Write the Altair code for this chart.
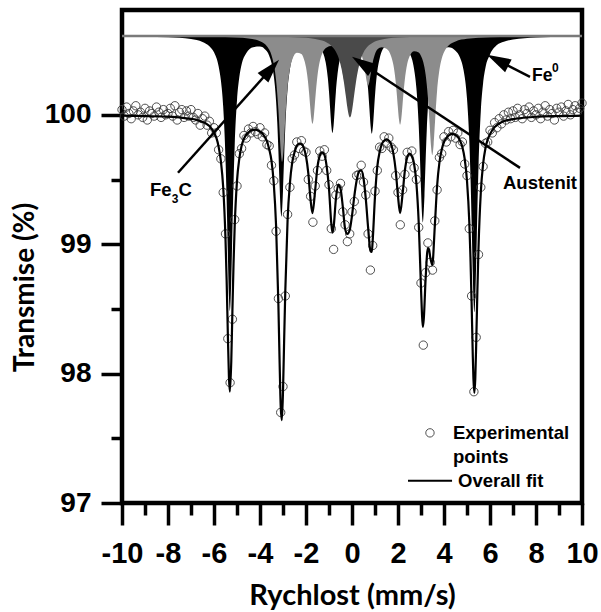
import altair as alt
import pandas as pd

BASELINE = 100.61

# ---------------- experimental points (velocity grid step 0.1 mm/s) ----------------
exp_x = [round(-10 + 0.1 * i, 1) for i in range(201)]
exp_y = [
    100.04, 99.99, 100.06, 100.01, 99.97, 100.03, 100.07, 100.00, 100.02, 99.98,
    100.05, 99.96, 100.03, 100.01, 99.99, 100.06, 100.02, 99.98, 100.04, 100.00,
    100.01, 100.05, 99.99, 100.07, 99.96, 100.02, 100.04, 99.98, 100.03, 99.99,
    100.04, 99.98, 99.96, 100.01, 99.92, 99.97, 99.99, 99.92, 99.95, 99.86,
    99.90, 99.86, 99.73, 99.66, 99.40, 99.08, 98.27, 97.93, 98.42, 99.19,
    99.45, 99.70, 99.74, 99.84, 99.82, 99.89, 99.86, 99.91, 99.87, 99.85,
    99.90, 99.83, 99.86, 99.77, 99.76, 99.61, 99.49, 99.10, 98.58, 97.70,
    97.90, 98.60, 99.23, 99.44, 99.66, 99.69, 99.79, 99.74, 99.80, 99.72,
    99.71, 99.50, 99.37, 99.17, 99.45, 99.57, 99.72, 99.68, 99.73, 99.57,
    99.46, 99.12, 98.96, 99.38, 99.43, 99.47, 99.25, 99.15, 99.02, 99.08,
    99.25, 99.33, 99.53, 99.54, 99.61, 99.48, 99.38, 99.08, 98.80, 98.99,
    99.41, 99.57, 99.75, 99.74, 99.83, 99.78, 99.82, 99.75, 99.73, 99.53,
    99.40, 99.15, 99.42, 99.54, 99.71, 99.66, 99.72, 99.59, 99.50, 99.13,
    98.70, 98.22, 98.78, 99.01, 98.86, 98.80, 99.18, 99.42, 99.67, 99.70,
    99.83, 99.79, 99.87, 99.83, 99.88, 99.82, 99.86, 99.77, 99.79, 99.62,
    99.53, 99.12, 98.60, 97.86, 98.28, 98.92, 99.44, 99.60, 99.78, 99.79,
    99.88, 99.86, 99.94, 99.90, 99.97, 99.93, 100.00, 99.96, 100.02, 99.97,
    100.03, 99.98, 100.05, 100.00, 99.97, 100.04, 100.01, 100.06, 99.98, 100.03,
    100.00, 100.05, 99.97, 100.02, 100.07, 99.99, 100.04, 100.01, 99.96, 100.05,
    100.02, 100.06, 99.99, 100.03, 100.08, 100.00, 100.04, 100.07, 100.02, 100.05,
    100.09,
]

# ---------------- overall fit ----------------
fit_x = [-10, -9, -8, -7.5, -7, -6.8, -6.6, -6.4, -6.2, -6.0, -5.9, -5.8, -5.7, -5.6,
         -5.5, -5.45, -5.4, -5.35, -5.31, -5.25, -5.2, -5.15, -5.1, -5.0, -4.9, -4.8,
         -4.7, -4.6, -4.5, -4.4, -4.3, -4.2, -4.1, -4.0, -3.9, -3.8, -3.7, -3.6, -3.5,
         -3.4, -3.3, -3.2, -3.15, -3.1, -3.05, -3.0, -2.95, -2.9, -2.8, -2.7, -2.6,
         -2.5, -2.4, -2.3, -2.2, -2.1, -2.0, -1.9, -1.8, -1.72, -1.6, -1.5, -1.4, -1.3,
         -1.2, -1.1, -1.0, -0.9, -0.85, -0.8, -0.7, -0.6, -0.5, -0.4, -0.3, -0.2, -0.1,
         0.0, 0.1, 0.2, 0.3, 0.4, 0.5, 0.6, 0.7, 0.8, 0.86, 0.9, 1.0, 1.1, 1.2, 1.3,
         1.4, 1.5, 1.6, 1.7, 1.8, 1.9, 2.0, 2.09, 2.2, 2.3, 2.4, 2.5, 2.6, 2.7, 2.8,
         2.9, 3.0, 3.04, 3.08, 3.12, 3.2, 3.3, 3.35, 3.4, 3.49, 3.6, 3.7, 3.8, 3.9,
         4.0, 4.1, 4.2, 4.3, 4.4, 4.5, 4.6, 4.7, 4.8, 4.9, 5.0, 5.1, 5.15, 5.2, 5.25,
         5.28, 5.32, 5.36, 5.4, 5.45, 5.5, 5.6, 5.7, 5.8, 5.9, 6.0, 6.2, 6.4, 6.6, 6.8,
         7.0, 7.5, 8.0, 9.0, 10.0]
fit_y = [99.994, 99.990, 99.986, 99.979, 99.969, 99.963, 99.951, 99.938, 99.913, 99.862,
         99.823, 99.754, 99.64, 99.44, 99.04, 98.72, 98.32, 97.97, 97.86, 98.09, 98.48,
         98.854, 99.14, 99.49, 99.66, 99.76, 99.814, 99.846, 99.864, 99.878, 99.882,
         99.885, 99.881, 99.87, 99.857, 99.83, 99.797, 99.734, 99.644, 99.465, 99.14,
         98.53, 98.11, 97.75, 97.64, 97.86, 98.26, 98.64, 99.19, 99.47, 99.63, 99.71,
         99.76, 99.777, 99.776, 99.747, 99.68, 99.55, 99.34, 99.24, 99.42, 99.60, 99.685,
         99.71, 99.69, 99.60, 99.43, 99.16, 99.09, 99.13, 99.35, 99.46, 99.43, 99.29,
         99.12, 99.08, 99.11, 99.22, 99.37, 99.49, 99.56, 99.57, 99.51, 99.35, 99.13,
         98.95, 98.94, 99.03, 99.37, 99.60, 99.71, 99.775, 99.80, 99.81, 99.80, 99.774,
         99.70, 99.57, 99.37, 99.24, 99.39, 99.57, 99.67, 99.70, 99.68, 99.62, 99.47,
         99.17, 98.66, 98.47, 98.36, 98.42, 98.73, 98.97, 98.96, 98.90, 98.84, 99.14,
         99.45, 99.63, 99.73, 99.79, 99.82, 99.84, 99.85, 99.85, 99.845, 99.83, 99.80,
         99.75, 99.66, 99.49, 99.17, 98.90, 98.55, 98.15, 97.96, 97.85, 97.96, 98.23,
         98.63, 98.97, 99.40, 99.62, 99.74, 99.81, 99.85, 99.905, 99.932, 99.95, 99.96,
         99.967, 99.978, 99.985, 99.99, 99.993]

# ---------------- Fe0 subspectrum (black) ----------------
fe_x = [-10, -8, -7, -6.5, -6.2, -6.0, -5.8, -5.7, -5.6, -5.5, -5.45, -5.4, -5.35, -5.31,
        -5.25, -5.2, -5.15, -5.1, -5.0, -4.9, -4.8, -4.6, -4.3, -4.0, -3.8, -3.6, -3.45,
        -3.35, -3.25, -3.2, -3.15, -3.1, -3.07, -3.0, -2.95, -2.9, -2.8, -2.7, -2.5, -2.2,
        -1.8, -1.5, -1.3, -1.15, -1.05, -1.0, -0.95, -0.9, -0.85, -0.8, -0.75, -0.7, -0.6,
        -0.5, -0.3, 0.0, 0.3, 0.5, 0.6, 0.7, 0.76, 0.81, 0.86, 0.91, 0.96, 1.01, 1.1, 1.2,
        1.4, 1.8, 2.2, 2.5, 2.7, 2.8, 2.9, 2.95, 3.0, 3.05, 3.08, 3.15, 3.2, 3.25, 3.35,
        3.45, 3.6, 3.8, 4.2, 4.5, 4.7, 4.85, 5.0, 5.1, 5.15, 5.2, 5.25, 5.28, 5.32, 5.36,
        5.4, 5.45, 5.5, 5.6, 5.7, 5.8, 6.0, 6.3, 6.6, 7.0, 8.0, 10]
fe_y = [100.606, 100.599, 100.585, 100.563, 100.53, 100.483, 100.376, 100.265, 100.062,
        99.66, 99.34, 98.947, 98.594, 98.483, 98.718, 99.109, 99.479, 99.763, 100.112,
        100.29, 100.388, 100.476, 100.523, 100.527, 100.509, 100.457, 100.358, 100.218,
        99.941, 99.721, 99.462, 99.254, 99.213, 99.413, 99.673, 99.903, 100.201, 100.353,
        100.48, 100.538, 100.553, 100.537, 100.496, 100.41, 100.283, 100.179, 100.047,
        99.917, 99.859, 99.917, 100.046, 100.178, 100.356, 100.447, 100.516, 100.542,
        100.52, 100.453, 100.364, 100.196, 100.041, 99.911, 99.853, 99.911, 100.04,
        100.172, 100.336, 100.433, 100.52, 100.549, 100.535, 100.477, 100.353, 100.206,
        99.919, 99.693, 99.426, 99.211, 99.168, 99.373, 99.639, 99.877, 100.182, 100.335,
        100.442, 100.5, 100.522, 100.496, 100.441, 100.346, 100.125, 99.801, 99.533,
        99.179, 98.782, 98.585, 98.474, 98.586, 98.859, 99.257, 99.596, 100.025, 100.244,
        100.362, 100.466, 100.539, 100.565, 100.582, 100.598, 100.606]

# ---------------- Fe3C subspectrum (grey) ----------------
c_x = [-10, -8, -6, -5, -4.5, -4.0, -3.7, -3.5, -3.4, -3.3, -3.2, -3.15, -3.1, -3.04,
       -2.98, -2.93, -2.88, -2.8, -2.7, -2.6, -2.4, -2.2, -2.1, -2.0, -1.92, -1.87,
       -1.82, -1.77, -1.72, -1.67, -1.62, -1.57, -1.5, -1.4, -1.3, -1.1, -0.9, -0.7,
       -0.6, -0.5, -0.42, -0.36, -0.3, -0.24, -0.18, -0.1, 0.0, 0.1, 0.2, 0.3, 0.4, 0.5,
       0.58, 0.64, 0.7, 0.76, 0.82, 0.9, 1.0, 1.1, 1.3, 1.5, 1.7, 1.8, 1.89, 1.94, 1.99,
       2.04, 2.09, 2.14, 2.19, 2.24, 2.29, 2.4, 2.5, 2.7, 2.9, 3.0, 3.1, 3.2, 3.3, 3.37,
       3.43, 3.49, 3.55, 3.61, 3.7, 3.8, 3.9, 4.0, 4.2, 4.5, 5.0, 6.0, 8.0, 10]
c_y = [100.609, 100.607, 100.604, 100.598, 100.59, 100.568, 100.529, 100.461, 100.391,
       100.266, 100.037, 99.879, 99.725, 99.637, 99.723, 99.876, 100.033, 100.218,
       100.355, 100.426, 100.48, 100.469, 100.435, 100.367, 100.267, 100.177, 100.069,
       99.971, 99.93, 99.972, 100.071, 100.18, 100.304, 100.413, 100.472, 100.52,
       100.531, 100.511, 100.481, 100.421, 100.342, 100.278, 100.247, 100.276, 100.339,
       100.416, 100.473, 100.499, 100.506, 100.498, 100.469, 100.407, 100.325, 100.257,
       100.225, 100.257, 100.324, 100.405, 100.47, 100.504, 100.522, 100.51, 100.452,
       100.384, 100.27, 100.177, 100.067, 99.967, 99.924, 99.965, 100.063, 100.17,
       100.261, 100.393, 100.451, 100.492, 100.481, 100.455, 100.406, 100.312, 100.135,
       99.942, 99.769, 99.688, 99.771, 99.946, 100.186, 100.346, 100.434, 100.484,
       100.536, 100.567, 100.587, 100.6, 100.606, 100.608]

# ---------------- Austenite singlet (dark grey) ----------------
a_x = [-10, -7, -5, -4, -3, -2.5, -2, -1.6, -1.3, -1.1, -0.9, -0.7, -0.55, -0.45, -0.35,
       -0.27, -0.2, -0.14, -0.09, -0.04, 0.02, 0.09, 0.17, 0.27, 0.37, 0.5, 0.7, 0.9, 1.2,
       1.6, 2, 2.5, 3, 4, 5, 7, 10]
a_y = [100.609, 100.609, 100.608, 100.606, 100.603, 100.6, 100.595, 100.586, 100.574,
       100.559, 100.534, 100.487, 100.422, 100.352, 100.25, 100.147, 100.055, 99.997,
       99.98, 99.997, 100.055, 100.147, 100.25, 100.352, 100.422, 100.481, 100.531,
       100.557, 100.578, 100.591, 100.597, 100.602, 100.604, 100.607, 100.608, 100.609,
       100.609]

# ---------------- annotations ----------------
ann_text = ["Fe", "3", "C", "Austenit", "Fe", "0"]
ann_x = [-8.783, -7.835, -7.543, 6.565, 7.826, 8.696]
ann_y = [99.374, 99.32, 99.374, 99.428, 100.263, 100.332]
ann_size = [18.5, 12, 18.5, 18.5, 17.5, 12]

arrow_x = [-7.565, 7.304, 7.739]        # tails
arrow_y = [99.552, 99.590, 100.294]
head_x = [-3.522, 0.435, 6.335]         # arrow heads
head_y = [100.356, 100.397, 100.421]
head_angle = [41.8, 303.5, 297.1]

leg_text = ["Experimental", "points", "Overall fit"]
leg_text_x = [4.391, 4.391, 4.609]
leg_text_y = [97.496, 97.311, 97.125]
leg_pt_x = [3.39]
leg_pt_y = [97.542]
leg_line_x = [2.435]
leg_line_x2 = [4.35]
leg_line_y = [97.172]

# ---------------- chart ----------------
xs = alt.Scale(domain=[-10, 10], nice=False, zero=False)
ys = alt.Scale(domain=[97, 100.81], nice=False, zero=False)

x_axis = alt.Axis(
    title="Rychlost (mm/s)", values=list(range(-10, 11)), grid=False, domain=False,
    labelExpr="datum.value % 2 === 0 ? '' + datum.value : ''",
    tickSize={"condition": {"test": "datum.value % 2 === 0", "value": 22}, "value": 12},
    tickWidth=3.5, tickColor="black", labelFont="Liberation Sans", labelFontSize=29,
    labelFontWeight="bold", labelColor="black", labelPadding=14, labelFlush=False,
    labelOverlap=False, titleFont="Lato", titleFontSize=29, titleFontWeight="bold",
    titleColor="black", titleBaseline="alphabetic", titleY=101,
)
y_axis = alt.Axis(
    title="Transmise (%)", values=[97, 97.5, 98, 98.5, 99, 99.5, 100], grid=False,
    domain=False, labelExpr="datum.value % 1 === 0 ? '' + datum.value : ''",
    tickSize={"condition": {"test": "datum.value % 1 === 0", "value": 21}, "value": 11},
    tickWidth=3.5, tickColor="black", labelFont="Liberation Sans", labelFontSize=28,
    labelFontWeight="bold", labelColor="black", labelPadding=10, labelFlush=False,
    labelOverlap=False, titleFont="Lato", titleFontSize=28, titleFontWeight="bold",
    titleColor="black", titleAngle=270, titleAlign="center", titleBaseline="middle",
    titleX=-97, titleY=277,
)


def X(f):
    return alt.X(f, type="quantitative", scale=xs, axis=x_axis)


def Y(f):
    return alt.Y(f, type="quantitative", scale=ys, axis=y_axis)


df_exp = pd.DataFrame({"x": exp_x, "y": exp_y})
df_fit = pd.DataFrame({"x": fit_x, "y": fit_y})
df_fe = pd.DataFrame({"x": fe_x, "y": fe_y})
df_c = pd.DataFrame({"x": c_x, "y": c_y})
df_a = pd.DataFrame({"x": a_x, "y": a_y})
df_ann = pd.DataFrame({"x": ann_x, "y": ann_y, "t": ann_text, "s": ann_size})
df_arr = pd.DataFrame({"x": arrow_x, "y": arrow_y, "x2": head_x, "y2": head_y})
df_head = pd.DataFrame({"x": head_x, "y": head_y, "a": head_angle})
df_legt = pd.DataFrame({"x": leg_text_x, "y": leg_text_y, "t": leg_text})
df_legp = pd.DataFrame({"x": leg_pt_x, "y": leg_pt_y})
df_legl = pd.DataFrame({"x": leg_line_x, "x2": leg_line_x2, "y": leg_line_y})
df_base = pd.DataFrame({"b": [BASELINE]})

area_fe = alt.Chart(df_fe).mark_area(color="black", interpolate="monotone").encode(
    x=X("x"), y=Y("y"), y2=alt.datum(BASELINE))
area_c = alt.Chart(df_c).mark_area(color="#8c8c8c", interpolate="monotone").encode(
    x=X("x"), y=Y("y"), y2=alt.datum(BASELINE))
area_a = alt.Chart(df_a).mark_area(color="#4a4a4a", interpolate="monotone").encode(
    x=X("x"), y=Y("y"), y2=alt.datum(BASELINE))
base_rule = alt.Chart(df_base).mark_rule(color="#7a7a7a", strokeWidth=2.5).encode(y=Y("b"))

pts = alt.Chart(df_exp).mark_point(shape="circle", size=70, filled=False, color="#3c3c3c",
                                   strokeWidth=0.9, opacity=1).encode(x=X("x"), y=Y("y"))
fit = alt.Chart(df_fit).mark_line(color="black", strokeWidth=2.2,
                                  interpolate="monotone").encode(x=X("x"), y=Y("y"))

shafts = alt.Chart(df_arr).mark_rule(color="black", strokeWidth=2.5).encode(
    x=X("x"), y=Y("y"), x2="x2:Q", y2="y2:Q")
heads = alt.Chart(df_head).mark_point(
    shape="M0,-1L0.6,1L-0.6,1Z", filled=True, color="black", size=576, opacity=1
).encode(x=X("x"), y=Y("y"), angle=alt.Angle("a:Q", scale=None))

ann = alt.Chart(df_ann).mark_text(font="Liberation Sans", fontWeight="bold", align="left",
                                  baseline="alphabetic", color="black").encode(
    x=X("x"), y=Y("y"), text="t:N", size=alt.Size("s:Q", scale=None))

leg_t = alt.Chart(df_legt).mark_text(font="Liberation Sans", fontWeight="bold",
                                     fontSize=18.5, align="left", baseline="alphabetic",
                                     color="black").encode(x=X("x"), y=Y("y"), text="t:N")
leg_p = alt.Chart(df_legp).mark_point(shape="circle", size=70, filled=False,
                                      color="#3c3c3c", strokeWidth=0.9,
                                      opacity=1).encode(x=X("x"), y=Y("y"))
leg_l = alt.Chart(df_legl).mark_rule(color="black", strokeWidth=2).encode(
    x=X("x"), x2="x2:Q", y=Y("y"))

chart = alt.layer(
    area_fe, area_c, area_a, base_rule, pts, fit, shafts, heads, ann, leg_t, leg_p, leg_l
).properties(
    width=460, height=493,
    padding={"left": 122, "top": 10, "right": 19, "bottom": 109},
    autosize=alt.AutoSizeParams(type="none"),
    background="white",
).configure_view(stroke="black", strokeWidth=4.5)

chart.save("out.html", embed_options={"renderer": "svg", "actions": False})
